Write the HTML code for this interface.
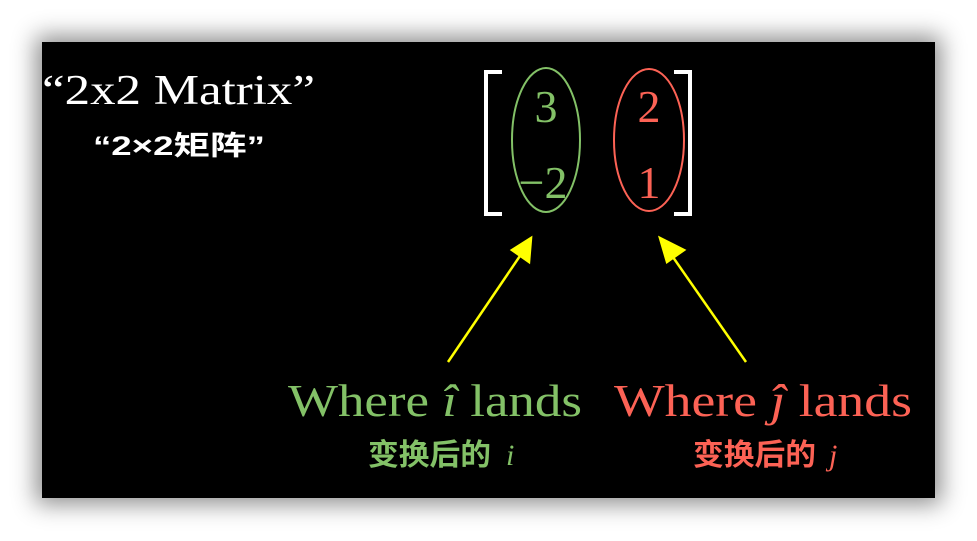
<!DOCTYPE html>
<html><head><meta charset="utf-8"><style>
html,body{margin:0;padding:0;background:#fff;width:977px;height:541px;overflow:hidden}
#frame{position:absolute;left:42px;top:42px;width:893px;height:456px;background:#000;box-shadow:0 0 22px 6px rgba(0,0,0,0.45)}
svg{position:absolute;left:0;top:0}
</style></head><body>
<div id="frame"></div>
<svg width="977" height="541">
<g font-family="Liberation Serif, serif" fill="#fff">
<text x="42" y="104" font-size="42" textLength="273" lengthAdjust="spacingAndGlyphs">“2x2 Matrix”</text>
<text x="93" y="155" font-size="27" font-weight="bold" textLength="172" lengthAdjust="spacingAndGlyphs" font-family="Liberation Sans, 'Noto Sans CJK SC', sans-serif">“2×2矩阵”</text>
</g>
<g stroke="#fff" stroke-width="4" fill="none">
<path d="M502 72 H486 V214 H502"/>
<path d="M674 72 H690 V214 H674"/>
</g>
<ellipse cx="546" cy="140" rx="34" ry="72" fill="none" stroke="#83c167" stroke-width="2"/>
<ellipse cx="649" cy="140" rx="35" ry="71" fill="none" stroke="#fc6255" stroke-width="2"/>
<g font-family="Liberation Serif, serif" font-size="46" text-anchor="middle">
<text x="546" y="122" fill="#83c167">3</text>
<text x="543" y="198" fill="#83c167">−2</text>
<text x="649" y="122" fill="#fc6255">2</text>
<text x="649" y="198" fill="#fc6255">1</text>
</g>
<g stroke="#ffff00" stroke-width="2.5" fill="#ffff00">
<line x1="448" y1="362" x2="524" y2="250"/>
<polygon points="531,238 529,262 512,250"/>
<line x1="746" y1="362" x2="668" y2="250"/>
<polygon points="660,238 684,250 667,262"/>
</g>
<g font-family="Liberation Serif, serif" font-size="46">
<text x="288" y="416" fill="#83c167" textLength="294" lengthAdjust="spacingAndGlyphs">Where <tspan font-style="italic">î</tspan> lands</text>
<text x="614" y="416" fill="#fc6255" textLength="298" lengthAdjust="spacingAndGlyphs">Where <tspan font-style="italic">ĵ</tspan> lands</text>
</g>
<g font-family="Liberation Sans, 'Noto Sans CJK SC', sans-serif" font-size="30" font-weight="bold">
<text x="368" y="465" fill="#83c167" textLength="123" lengthAdjust="spacingAndGlyphs">变换后的</text>
<text x="506" y="465" fill="#83c167" font-family="Liberation Serif, serif" font-style="italic" font-weight="normal" font-size="30">i</text>
<text x="693" y="465" fill="#fc6255" textLength="123" lengthAdjust="spacingAndGlyphs">变换后的</text>
<text x="829" y="465" fill="#fc6255" font-family="Liberation Serif, serif" font-style="italic" font-weight="normal" font-size="30">j</text>
</g>
</svg>
</body></html>
